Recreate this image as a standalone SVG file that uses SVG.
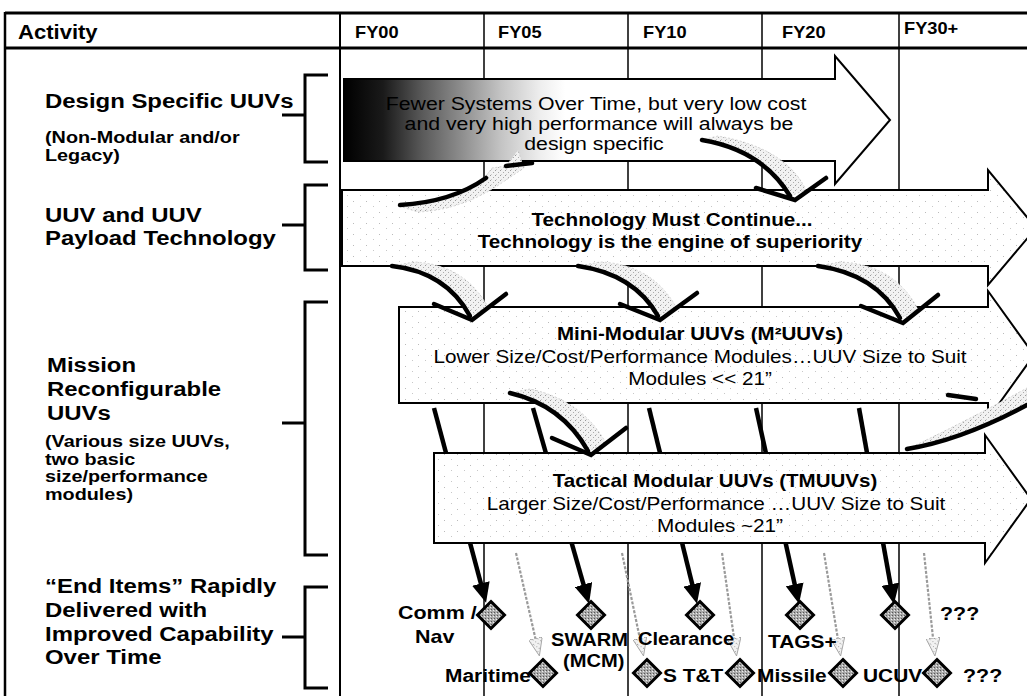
<svg xmlns="http://www.w3.org/2000/svg" width="1027" height="696" viewBox="0 0 1027 696">
<defs>
<style>
text{font-family:"Liberation Sans",Arial,sans-serif;fill:#000}
.lb{font-size:21px;font-weight:bold}
.ls{font-size:16.5px;font-weight:bold}
.hd{font-size:16px;font-weight:bold}
.at{font-size:18px;font-weight:bold;text-anchor:middle}
.ar{font-size:18px;text-anchor:middle}
.dr{font-size:18.5px;text-anchor:middle}
.it{font-size:19px;font-weight:bold}
.grid{stroke:#000;stroke-width:1.5}
.br{stroke:#000;stroke-width:3;fill:none}
.big{stroke:#000;stroke-width:2;fill:url(#spk)}
.crv{stroke:#000;stroke-width:4.5;fill:none;stroke-linecap:round;stroke-linejoin:miter}
.band{fill:url(#gsp);stroke:#c8c8c8;stroke-width:0.8;stroke-dasharray:2 2}
.bl{stroke:#000;stroke-width:4.5;fill:none;marker-end:url(#ah)}
.gl{stroke:#9a9a9a;stroke-width:2.2;stroke-dasharray:3 1.5;fill:none;marker-end:url(#gh)}
.dia{fill:url(#dp);stroke:#000;stroke-width:3}
</style>
<pattern id="spk" width="13" height="11" patternUnits="userSpaceOnUse">
<rect width="13" height="11" fill="#fff"/>
<rect x="2" y="3" width="1" height="1" fill="#bbb"/>
<rect x="9" y="8" width="1" height="1" fill="#c8c8c8"/>
</pattern>
<pattern id="gsp" width="5" height="5" patternUnits="userSpaceOnUse">
<rect width="5" height="5" fill="#f2f2f2"/>
<rect x="0" y="0" width="1" height="1" fill="#999"/>
<rect x="3" y="2" width="1" height="1" fill="#aaa"/>
<rect x="1" y="4" width="1" height="1" fill="#ccc"/>
</pattern>
<pattern id="dp" width="3" height="3" patternUnits="userSpaceOnUse">
<rect width="3" height="3" fill="#aaa"/>
<rect width="1" height="1" fill="#555"/>
<rect x="2" y="1" width="1" height="1" fill="#eee"/>
</pattern>
<linearGradient id="dg" gradientUnits="userSpaceOnUse" x1="344" y1="0" x2="835" y2="0">
<stop offset="0" stop-color="#000"/>
<stop offset="0.08" stop-color="#1a1a1a"/>
<stop offset="0.16" stop-color="#5a5a5a"/>
<stop offset="0.24" stop-color="#8e8e8e"/>
<stop offset="0.32" stop-color="#c4c4c4"/>
<stop offset="0.4" stop-color="#eee"/>
<stop offset="0.45" stop-color="#fff"/>
</linearGradient>
<marker id="ah" markerUnits="userSpaceOnUse" viewBox="0 0 20 18" refX="14" refY="9" markerWidth="20" markerHeight="18" orient="auto"><path d="M0,0 L20,9 L0,18 Z" fill="#000"/></marker>
<marker id="gh" markerUnits="userSpaceOnUse" viewBox="0 0 18 14" refX="14" refY="7" markerWidth="18" markerHeight="14" orient="auto"><path d="M0,0 L18,7 L0,14 Z" fill="url(#gsp)" stroke="#999" stroke-width="0.8"/></marker>
<path id="dm" d="M0,-13.5 L13.5,0 L0,13.5 L-13.5,0 Z"/>
</defs>
<rect width="1027" height="696" fill="#fff"/>

<g id="table">
<line x1="5" y1="13" x2="1027" y2="13" stroke="#000" stroke-width="3"/>
<line x1="5" y1="48" x2="1027" y2="48" stroke="#000" stroke-width="3"/>
<line x1="5" y1="12" x2="5" y2="696" stroke="#000" stroke-width="2.5"/>
<line x1="340" y1="12" x2="340" y2="696" stroke="#000" stroke-width="2"/>
<line class="grid" x1="484" y1="13" x2="484" y2="696"/>
<line class="grid" x1="628" y1="13" x2="628" y2="696"/>
<line class="grid" x1="762" y1="13" x2="762" y2="696"/>
<line class="grid" x1="899" y1="13" x2="899" y2="696"/>
<text class="lb" transform="translate(18,39) scale(1.05,1)">Activity</text>
<text class="hd" transform="translate(355,38) scale(1.14,1)">FY00</text>
<text class="hd" transform="translate(498,38) scale(1.14,1)">FY05</text>
<text class="hd" transform="translate(643,38) scale(1.14,1)">FY10</text>
<text class="hd" transform="translate(782,38) scale(1.14,1)">FY20</text>
<text class="hd" transform="translate(904,34) scale(1.14,1)">FY30+</text>
</g>

<g id="activities">
<text class="lb" transform="translate(45,108) scale(1.14,1)">Design Specific UUVs</text>
<text class="ls" transform="translate(45,143) scale(1.2,1)">(Non-Modular and/or</text>
<text class="ls" transform="translate(45,161) scale(1.2,1)">Legacy)</text>
<path class="br" d="M328,75 L305,75 L305,162 L328,162 M282,115 L305,115"/>
<text class="lb" transform="translate(45,222) scale(1.14,1)">UUV and UUV</text>
<text class="lb" transform="translate(45,245) scale(1.14,1)">Payload Technology</text>
<path class="br" d="M328,185 L305,185 L305,270 L328,270 M282,225 L305,225"/>
<text class="lb" transform="translate(47,372) scale(1.14,1)">Mission</text>
<text class="lb" transform="translate(47,396) scale(1.14,1)">Reconfigurable</text>
<text class="lb" transform="translate(47,420) scale(1.14,1)">UUVs</text>
<text class="ls" transform="translate(45,447) scale(1.2,1)">(Various size UUVs,</text>
<text class="ls" transform="translate(45,465) scale(1.2,1)">two basic</text>
<text class="ls" transform="translate(45,482) scale(1.2,1)">size/performance</text>
<text class="ls" transform="translate(45,500) scale(1.2,1)">modules)</text>
<path class="br" d="M328,302 L305,302 L305,555 L328,555 M282,423 L305,423"/>
<text class="lb" transform="translate(45,593) scale(1.14,1)">“End Items” Rapidly</text>
<text class="lb" transform="translate(45,617) scale(1.14,1)">Delivered with</text>
<text class="lb" transform="translate(45,641) scale(1.14,1)">Improved Capability</text>
<text class="lb" transform="translate(45,664) scale(1.14,1)">Over Time</text>
<path class="br" d="M328,587 L305,587 L305,688 L328,688 M282,637 L305,637"/>
</g>

<g id="connectors-back">
<path class="bl" d="M434,408 L484.5,597"/>
<path class="bl" d="M533,408 L587.4,598"/>
<path class="bl" d="M649,408 L695.6,598"/>
<path class="bl" d="M756,408 L797.7,598"/>
<path class="bl" d="M859,408 L892.9,598"/>
</g>

<g id="design-specific">
<path d="M344,79 L835,79 L835,56 L890,120 L835,184 L835,161 L344,161 Z" fill="url(#dg)" stroke="#000" stroke-width="2"/>
<text class="dr" transform="translate(596,110) scale(1.15,1)">Fewer Systems Over Time, but very low cost</text>
<text class="dr" transform="translate(599,130) scale(1.15,1)">and very high performance will always be</text>
<text class="dr" transform="translate(594,150) scale(1.15,1)">design specific</text>
</g>

<g id="technology">
<path class="big" d="M342,190 L988,190 L988,170 L1036,228 L988,285 L988,266 L342,266 Z"/>
<text class="at" transform="translate(672,226) scale(1.15,1)">Technology Must Continue...</text>
<text class="at" transform="translate(670,248) scale(1.15,1)">Technology is the engine of superiority</text>
</g>

<g id="mini-modular">
<path class="big" d="M399,307 L988,307 L988,291 L1034,355 L988,419 L988,403 L399,403 Z"/>
<text class="at" transform="translate(700,340) scale(1.14,1)">Mini-Modular UUVs (M²UUVs)</text>
<text class="ar" transform="translate(700,363) scale(1.15,1)">Lower Size/Cost/Performance Modules…UUV Size to Suit</text>
<text class="ar" transform="translate(700,385) scale(1.15,1)">Modules &lt;&lt; 21”</text>
</g>

<g id="tactical-modular">
<path class="big" d="M434,453 L985,453 L985,435 L1031,499 L985,563 L985,543 L434,543 Z"/>
<text class="at" transform="translate(715,487) scale(1.14,1)">Tactical Modular UUVs (TMUUVs)</text>
<text class="ar" transform="translate(716,510) scale(1.15,1)">Larger Size/Cost/Performance …UUV Size to Suit</text>
<text class="ar" transform="translate(720,532) scale(1.15,1)">Modules ~21”</text>
</g>

<g id="connectors">
<path class="band" d="M402,207 Q452,202 486,176 L492,168 L506,166 L518,150 L524,168 L506,180 Q464,210 418,212 Z"/>
<path class="crv" d="M400,205 Q452,202 486,178"/>
<path class="crv" d="M506,166 L532,163"/>
<path class="band" d="M702,140 Q762,150 790,196 L806,190 Q786,148 718,136 Z"/>
<path class="crv" d="M702,140 Q762,150 790,196"/>
<path class="crv" d="M756,188 L795,200 L826,178"/>
<path class="band" d="M392,266 Q446,272 470,316 L488,307 Q464,264 414,262 Z"/>
<path class="crv" d="M392,266 Q446,272 470,316"/>
<path class="crv" d="M434,304 L472,320 L506,294"/>
<path class="band" d="M578,266 Q634,274 658,316 L676,307 Q652,264 600,262 Z"/>
<path class="crv" d="M578,266 Q634,274 658,316"/>
<path class="crv" d="M620,304 L660,320 L697,293"/>
<path class="band" d="M818,266 Q876,274 900,318 L918,309 Q894,264 840,262 Z"/>
<path class="crv" d="M818,266 Q876,274 900,318"/>
<path class="crv" d="M861,306 L903,323 L938,295"/>
<path class="band" d="M510,393 Q562,405 588,451 L606,443 Q582,400 530,389 Z"/>
<path class="crv" d="M510,393 Q562,405 588,451"/>
<path class="crv" d="M552,438 L591,455 L626,428"/>
<path class="band" d="M907,449 Q962,440 1027,404 L1027,388 Q968,420 918,444 Z"/>
<path class="crv" d="M907,449 Q962,440 1027,405"/>
<path class="crv" d="M948,395 L976,399"/>
<path class="gl" d="M516,553 L538.5,652"/>
<path class="gl" d="M622,553 L642.7,652"/>
<path class="gl" d="M722,553 L736,652"/>
<path class="gl" d="M824,553 L840,652"/>
<path class="gl" d="M924,553 L934.5,652"/>
</g>

<g id="end-items">
<use href="#dm" class="dia" x="491" y="615"/>
<use href="#dm" class="dia" x="591" y="615"/>
<use href="#dm" class="dia" x="700" y="615"/>
<use href="#dm" class="dia" x="800" y="615"/>
<use href="#dm" class="dia" x="895" y="615"/>
<use href="#dm" class="dia" x="543" y="673"/>
<use href="#dm" class="dia" x="647" y="673"/>
<use href="#dm" class="dia" x="740" y="673"/>
<use href="#dm" class="dia" x="843" y="673"/>
<use href="#dm" class="dia" x="937" y="673"/>
<text class="it" transform="translate(398,619) scale(1.13,1)">Comm /</text>
<text class="it" transform="translate(415,643) scale(1.13,1)">Nav</text>
<text class="it" transform="translate(551,646) scale(1.06,1)">SWARM</text>
<text class="it" transform="translate(563,667) scale(1.06,1)">(MCM)</text>
<text class="it" transform="translate(638,645) scale(1.06,1)">Clearance</text>
<text class="it" transform="translate(768,648) scale(1.1,1)">TAGS+</text>
<text class="it" transform="translate(940,620) scale(1.13,1)">???</text>
<text class="it" transform="translate(445,682) scale(1.1,1)">Maritime</text>
<text class="it" transform="translate(663,682) scale(1.1,1)">S T&amp;T</text>
<text class="it" transform="translate(757,682) scale(1.1,1)">Missile</text>
<text class="it" transform="translate(863,682) scale(1.1,1)">UCUV</text>
<text class="it" transform="translate(963,682) scale(1.13,1)">???</text>
</g>
</svg>
